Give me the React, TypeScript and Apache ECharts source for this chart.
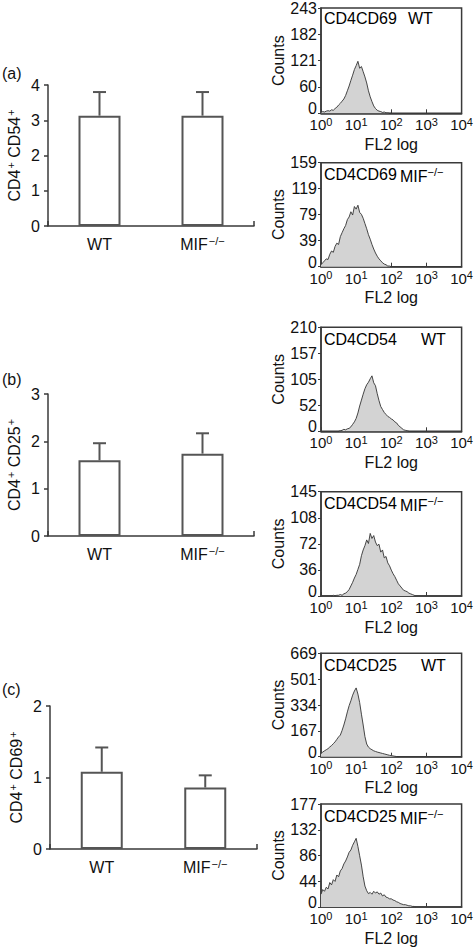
import React, { useEffect, useRef } from "react";
import * as echarts from "echarts";

// ---------- DATA ----------
const genotypes = ["WT", "MIF"];
const knockoutSup = "−/−";
const panelLetters = ["(a)", "(b)", "(c)"];
const barMarkers = [["CD4", "CD54"], ["CD4", "CD25"], ["CD4", "CD69"]];
const barMeansA = [3.13, 3.13];
const barErrTopA = [3.8, 3.8];
const barMeansB = [1.6, 1.74];
const barErrTopB = [1.96, 2.17];
const barMeansC = [1.08, 0.86];
const barErrTopC = [1.42, 1.03];
const barYMax = [4, 3, 2];

const histMarkers = ["CD4CD69", "CD4CD69", "CD4CD54", "CD4CD54", "CD4CD25", "CD4CD25"];
const histGenotype = ["WT", "MIF", "WT", "MIF", "WT", "MIF"];
const histYMax = [243, 159, 210, 145, 669, 177];
const histYTicks = [
  ["0", "60", "121", "182", "243"],
  ["0", "39", "79", "119", "159"],
  ["0", "52", "105", "157", "210"],
  ["0", "36", "72", "108", "145"],
  ["0", "167", "334", "501", "669"],
  ["0", "44", "86", "132", "177"],
];
const histXDecades = [0, 1, 2, 3, 4];
const binStep = 0.05;
const histStart = [0, 0, 0.5, 0.3, 0, 0];
const hist1 = [2, 4, 3, 5, 6, 5, 8, 7, 11, 14, 19, 23, 28, 33, 41, 52, 63, 76, 88, 101, 110, 120, 104, 108, 96, 84, 70, 52, 38, 27, 17, 11, 7, 5, 4, 2, 3, 1, 1, 0, 0];
const hist2 = [3, 6, 9, 12, 11, 19, 24, 22, 31, 36, 34, 46, 52, 58, 63, 72, 76, 84, 79, 92, 88, 94, 83, 80, 74, 66, 58, 49, 42, 34, 27, 21, 16, 12, 9, 6, 4, 3, 1, 1, 0];
const hist3 = [0, 1, 2, 4, 3, 5, 6, 9, 14, 19, 26, 37, 51, 63, 75, 86, 94, 99, 106, 112, 98, 92, 76, 62, 50, 44, 38, 34, 30, 28, 25, 23, 19, 17, 12, 9, 6, 3, 2, 1, 0];
const hist4 = [0, 1, 0, 1, 1, 2, 1, 3, 4, 6, 9, 14, 19, 25, 30, 37, 44, 56, 64, 70, 78, 73, 87, 80, 84, 75, 70, 72, 61, 64, 53, 55, 46, 42, 36, 31, 27, 22, 17, 14, 11, 8, 7, 6, 4, 3, 2, 1, 0];
const hist5 = [20, 30, 38, 45, 52, 63, 72, 84, 96, 112, 128, 140, 170, 205, 245, 290, 330, 362, 398, 425, 445, 405, 350, 275, 205, 130, 82, 62, 52, 45, 38, 34, 30, 27, 24, 21, 18, 15, 12, 9, 7, 5, 3, 1, 0];
const hist6 = [22, 30, 27, 34, 31, 42, 38, 47, 44, 55, 52, 62, 66, 74, 79, 86, 94, 98, 106, 112, 118, 104, 88, 72, 52, 36, 28, 23, 25, 22, 27, 24, 26, 22, 24, 19, 21, 17, 16, 14, 14, 12, 11, 9, 8, 6, 5, 4, 4, 3, 2, 2, 1, 1, 0];
const histCounts = [hist1, hist2, hist3, hist4, hist5, hist6];

// ---------- LAYOUT ----------
const FONT = "Liberation Sans, Arial, Helvetica, sans-serif";
const INK = "#111";
const LINE = "#3a3a3a";
const barGrids = [
  { left: 48, top: 85, width: 206, height: 141 },
  { left: 48, top: 394, width: 206, height: 142 },
  { left: 50, top: 706, width: 207, height: 143 },
];
const letterTops = [74, 380, 690];
const histTops = [6.7, 162.7, 327.3, 491.7, 653.3, 804];
const histHeights = [106.6, 104, 104, 104.3, 103.4, 104.3];
const histLeft = 321;
const histWidth = 141;
const genoX = [408, 400, 421, 400, 421, 400];

const supRich = {
  m: { fontSize: 16, fontFamily: FONT, color: INK, lineHeight: 19 },
  s: { fontSize: 11, fontFamily: FONT, color: INK, verticalAlign: "top", lineHeight: 12, padding: [0, 0, 0, 1] },
};

function buildOption() {
  const grid: any[] = [];
  const xAxis: any[] = [];
  const yAxis: any[] = [];
  const series: any[] = [];
  const graphic: any[] = [];

  const means = [barMeansA, barMeansB, barMeansC];
  const errs = [barErrTopA, barErrTopB, barErrTopC];

  barGrids.forEach((g, k) => {
    grid.push({ ...g, containLabel: false });
    xAxis.push({
      type: "category",
      gridIndex: k,
      data: genotypes,
      boundaryGap: true,
      axisLine: { show: true, lineStyle: { color: LINE, width: 1.5 } },
      axisTick: { show: true, inside: true, length: 5, interval: (i: number) => i === 1, lineStyle: { color: LINE, width: 1.5 } },
      axisLabel: {
        margin: 9,
        interval: 0,
        formatter: (v: string) => (v === "MIF" ? `{m|MIF}{s|${knockoutSup}}` : `{m|${v}}`),
        rich: supRich,
      },
      splitLine: { show: false },
    });
    yAxis.push({
      type: "value",
      gridIndex: k,
      min: 0,
      max: barYMax[k],
      interval: 1,
      name: `{m|${barMarkers[k][0]}}{s|+}{m| ${barMarkers[k][1]}}{s|+}`,
      nameLocation: "middle",
      nameGap: 24,
      nameTextStyle: { rich: supRich },
      axisLine: { show: true, lineStyle: { color: LINE, width: 1.5 } },
      axisTick: { show: true, inside: false, length: 4, lineStyle: { color: LINE, width: 1.5 } },
      axisLabel: { fontSize: 16, fontFamily: FONT, color: INK, margin: 8 },
      splitLine: { show: false },
    });
    series.push({
      type: "bar",
      xAxisIndex: k,
      yAxisIndex: k,
      data: means[k],
      barWidth: 42,
      itemStyle: { color: "#fff", borderColor: "#555", borderWidth: 2 },
      silent: true,
    });
    series.push({
      type: "custom",
      xAxisIndex: k,
      yAxisIndex: k,
      data: means[k].map((m, i) => [i, m, errs[k][i]]),
      z: 5,
      renderItem: (params: any, api: any) => {
        const i = api.value(0);
        const p0 = api.coord([i, api.value(1)]);
        const p1 = api.coord([i, api.value(2)]);
        const st = { stroke: "#555", lineWidth: 2 };
        return {
          type: "group",
          children: [
            { type: "line", shape: { x1: p0[0], y1: p0[1], x2: p1[0], y2: p1[1] }, style: st },
            { type: "line", shape: { x1: p1[0] - 6.5, y1: p1[1], x2: p1[0] + 6.5, y2: p1[1] }, style: st },
          ],
        };
      },
    });
    graphic.push({
      type: "text",
      left: 2,
      top: letterTops[k] - 9,
      style: { text: panelLetters[k], font: `16px ${FONT}`, fill: INK },
    });
  });

  histCounts.forEach((counts, h) => {
    const gi = barGrids.length + h;
    grid.push({
      left: histLeft,
      top: histTops[h],
      width: histWidth,
      height: histHeights[h],
      show: true,
      borderColor: LINE,
      borderWidth: 1.5,
      backgroundColor: "transparent",
    });
    xAxis.push({
      type: "value",
      gridIndex: gi,
      min: histXDecades[0],
      max: histXDecades[histXDecades.length - 1],
      interval: 1,
      name: "FL2 log",
      nameLocation: "middle",
      nameGap: 23,
      nameTextStyle: { fontSize: 16, fontFamily: FONT, color: INK, verticalAlign: "top" },
      axisLine: { show: true, lineStyle: { color: LINE, width: 1.5 } },
      axisTick: { show: true, inside: true, length: 4, lineStyle: { color: LINE, width: 1 } },
      axisLabel: {
        margin: 3,
        formatter: (v: number) => `{b|10}{e|${v}}`,
        rich: {
          b: { fontSize: 15, fontFamily: FONT, color: INK, lineHeight: 17 },
          e: { fontSize: 11, fontFamily: FONT, color: INK, verticalAlign: "top", lineHeight: 11 },
        },
      },
      splitLine: { show: false },
    });
    const ymax = histYMax[h];
    const ticks = histYTicks[h];
    yAxis.push({
      type: "value",
      gridIndex: gi,
      min: 0,
      max: ymax,
      interval: ymax / 4,
      name: "Counts",
      nameLocation: "middle",
      nameGap: 34,
      nameTextStyle: { fontSize: 16, fontFamily: FONT, color: INK },
      axisLine: { show: true, lineStyle: { color: LINE, width: 1.5 } },
      axisTick: { show: true, inside: false, length: 3, lineStyle: { color: LINE, width: 1 } },
      axisLabel: {
        margin: 4,
        formatter: (v: number) => {
          const idx = Math.round(v / (ymax / 4));
          const t = ticks[idx] ?? "";
          return idx === 0 ? `{z|${t}}` : `{n|${t}}`;
        },
        rich: {
          n: { fontSize: 16, fontFamily: FONT, color: INK },
          z: { fontSize: 16, fontFamily: FONT, color: INK, padding: [0, 0, 9, 0] },
        },
      },
      splitLine: { show: false },
    });
    const start = histStart[h];
    series.push({
      type: "line",
      xAxisIndex: gi,
      yAxisIndex: gi,
      data: counts.map((c, i) => [Math.round((start + i * binStep) * 1000) / 1000, c]),
      showSymbol: false,
      symbol: "none",
      lineStyle: { color: "#333", width: 0.9 },
      areaStyle: { color: "#d3d3d3", opacity: 1 },
      silent: true,
    });
    const ty = histTops[h] + 14;
    const labelRich = {
      m: { fontSize: 16, fontFamily: FONT, color: INK, lineHeight: 20 },
      s: { fontSize: 11, fontFamily: FONT, color: INK, verticalAlign: "top", lineHeight: 12 },
    };
    graphic.push({
      type: "text",
      left: histLeft + 3,
      top: ty - 10,
      style: { text: `{m|${histMarkers[h]}}`, rich: labelRich },
    });
    graphic.push({
      type: "text",
      left: genoX[h],
      top: ty - 10,
      style: {
        text: histGenotype[h] === "MIF" ? `{m|MIF}{s|${knockoutSup}}` : `{m|WT}`,
        rich: labelRich,
      },
    });
  });

  return {
    backgroundColor: "#fff",
    animation: false,
    textStyle: { fontFamily: FONT },
    grid,
    xAxis,
    yAxis,
    series,
    graphic,
  };
}

export default function App() {
  const ref = useRef<HTMLDivElement>(null);
  useEffect(() => {
    document.body.style.margin = "0";
    if (!ref.current) return;
    const chart = echarts.init(ref.current, undefined, { renderer: "svg" });
    chart.setOption(buildOption() as any);
    return () => chart.dispose();
  }, []);
  return <div ref={ref} style={{ width: 476, height: 947 }} />;
}
